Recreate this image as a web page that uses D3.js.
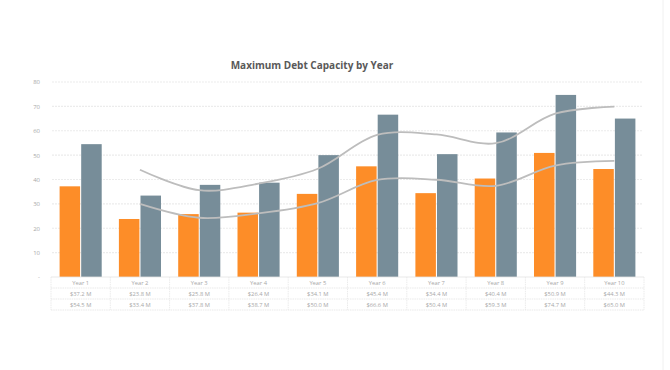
<!DOCTYPE html>
<html><head><meta charset="utf-8">
<script src="https://cdn.jsdelivr.net/npm/d3@7"></script>
<style>body{margin:0;background:#fff;}svg{display:block;}</style>
</head><body>
<svg id="c" width="670" height="370"></svg>
<script>
const years = ["Year 1","Year 2","Year 3","Year 4","Year 5","Year 6","Year 7","Year 8","Year 9","Year 10"];
const seriesA = [37.2, 23.8, 25.8, 26.4, 34.1, 45.4, 34.4, 40.4, 50.9, 44.3];
const seriesB = [54.5, 33.4, 37.8, 38.7, 50.0, 66.6, 50.4, 59.3, 74.7, 65.0];
const labelsA = ["$37.2 M","$23.8 M","$25.8 M","$26.4 M","$34.1 M","$45.4 M","$34.4 M","$40.4 M","$50.9 M","$44.3 M"];
const labelsB = ["$54.5 M","$33.4 M","$37.8 M","$38.7 M","$50.0 M","$66.6 M","$50.4 M","$59.3 M","$74.7 M","$65.0 M"];
// trend lines (2-period moving average), start at Year 2
const trendYears = years.slice(1);
const trendA = [30.0, 24.3, 26.1, 30.3, 39.8, 39.9, 37.4, 45.7, 47.6];
const trendB = [44.0, 35.6, 38.3, 44.4, 58.3, 58.5, 54.9, 67.0, 69.9];
const yTicks = [0,10,20,30,40,50,60,70,80];

const svg = d3.select("#c");
const colA = "#fd8d28", colB = "#778d99", trendCol = "#bdbdbd";
const x = d3.scaleBand().domain(years).range([51, 644]).paddingInner(0).paddingOuter(0);
const x1 = d3.scaleBand().domain([0,1]).range([8.6, x.bandwidth()-8.6]).paddingInner(0.05);
const y = d3.scaleLinear().domain([0,80]).range([277, 82]);

// title
svg.append("text").attr("x", 312).attr("y", 69).attr("text-anchor","middle")
  .attr("font-family","'Open Sans', sans-serif").attr("font-weight","bold").attr("font-size","10px")
  .attr("fill","#595959").text("Maximum Debt Capacity by Year");

// gridlines
svg.append("g").selectAll("line").data(yTicks.filter(d=>d>0)).join("line")
  .attr("x1", 52).attr("x2", 642).attr("y1", d=>y(d)).attr("y2", d=>y(d))
  .attr("stroke","#ececec").attr("stroke-width",1.2).attr("stroke-dasharray","2,1");

// y axis labels
const yAxis = d3.axisLeft(y).tickValues(yTicks).tickSize(0).tickPadding(0)
  .tickFormat(d => d === 0 ? "-" : d);
const ya = svg.append("g").attr("transform","translate(40,0)").call(yAxis);
ya.select(".domain").remove();
ya.selectAll("text").attr("font-family","'Open Sans', sans-serif").attr("font-size","6px").attr("fill","#a8a8a8");

// bars
const g = svg.append("g");
g.selectAll("rect.a").data(years).join("rect").attr("class","a")
  .attr("x", (d)=>x(d)+x1(0)).attr("width", x1.bandwidth())
  .attr("y", (d,i)=>y(seriesA[i])).attr("height", (d,i)=>y(0)-y(seriesA[i]))
  .attr("fill", colA);
g.selectAll("rect.b").data(years).join("rect").attr("class","b")
  .attr("x", (d)=>x(d)+x1(1)).attr("width", x1.bandwidth())
  .attr("y", (d,i)=>y(seriesB[i])).attr("height", (d,i)=>y(0)-y(seriesB[i]))
  .attr("fill", colB);

// trend lines
const line = d3.line().x(d=>x(d[0])+x.bandwidth()/2).y(d=>y(d[1])).curve(d3.curveCatmullRom.alpha(0.5));
[trendA, trendB].forEach(t => {
  svg.append("path").datum(trendYears.map((yr,i)=>[yr,t[i]]))
    .attr("d", line).attr("fill","none").attr("stroke", trendCol).attr("stroke-width", 1.8);
});

// data table
const rows = [years, labelsA, labelsB];
const rowY = [277, 288, 299, 310];
const tbl = svg.append("g");
rowY.forEach((ry,i) => {
  if (i===0) return;
  tbl.append("line").attr("x1", 51).attr("x2", 644).attr("y1", ry).attr("y2", ry)
    .attr("stroke","#e3e3e3").attr("stroke-width",0.8).attr("stroke-dasharray","1.5,0.8");
});
tbl.append("line").attr("x1", 51).attr("x2", 644).attr("y1", 277).attr("y2", 277)
  .attr("stroke","#e3e3e3").attr("stroke-width",0.8);
[...years.map(d=>x(d)), 644].forEach(vx => {
  tbl.append("line").attr("x1", vx).attr("x2", vx).attr("y1", 277).attr("y2", 310)
    .attr("stroke","#e6e6e6").attr("stroke-width",0.8).attr("stroke-dasharray","1.5,0.8");
});
rows.forEach((r,ri) => {
  tbl.selectAll(null).data(r).join("text")
    .attr("x", (d,i)=>x(years[i])+x.bandwidth()/2)
    .attr("y", (rowY[ri]+rowY[ri+1])/2 + 2)
    .attr("text-anchor","middle")
    .attr("font-family","'Open Sans', sans-serif").attr("font-size","5.8px").attr("fill","#a8a8a8")
    .text(d=>d);
});

// faint right border
svg.append("line").attr("x1",663).attr("x2",663).attr("y1",0).attr("y2",370).attr("stroke","#f0f0f0");
</script>
</body></html>
